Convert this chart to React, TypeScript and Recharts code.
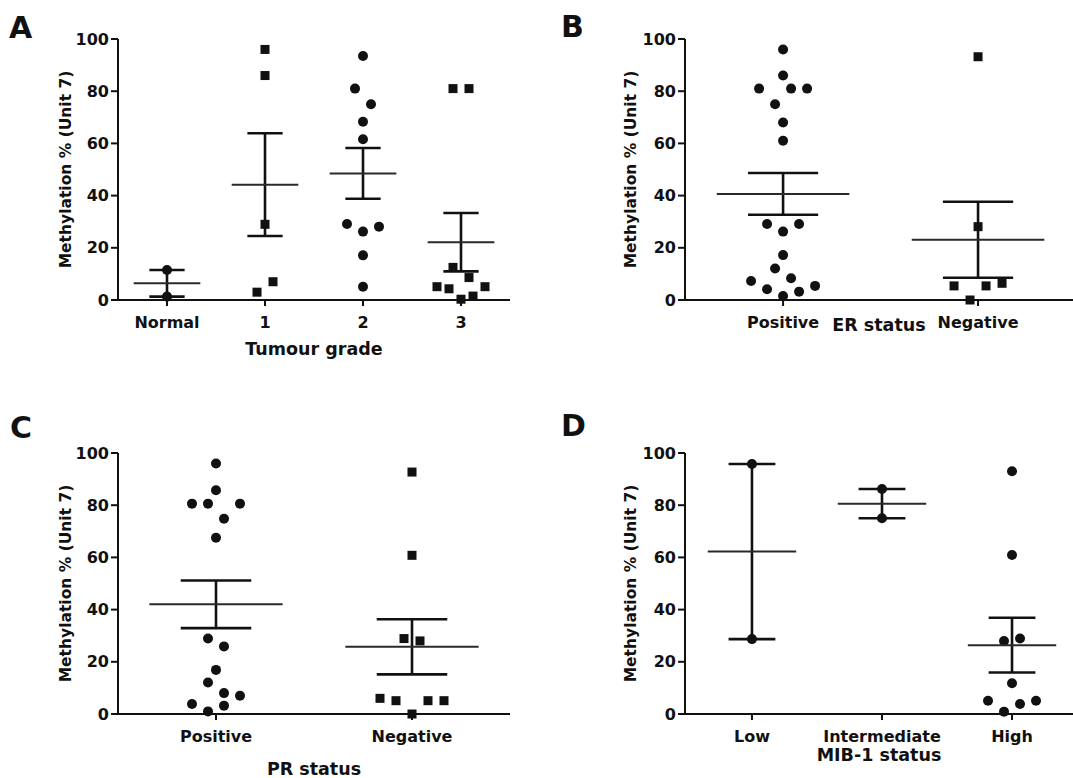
import React from "react";
import { ScatterChart, Scatter, XAxis, YAxis, ErrorBar } from "recharts";

const FONT = "'DejaVu Sans', Verdana, sans-serif";
const INK = "#111111";
const Y_TITLE = "Methylation % (Unit 7)";
const Y_TICKS = [0, 20, 40, 60, 80, 100];

// A: tumour grade
const gradeCats = ["Normal", "1", "2", "3"];
const gradeValues = [
  [11.5, 1.3],
  [96, 86, 29, 7, 3],
  [93.5, 81, 75, 68.3, 61.6, 29.1, 28.1, 26.2, 17.1, 5.1],
  [81, 81, 12.5, 8.6, 5.1, 4.3, 5.1, 0.3, 1.5],
];
const gradeSlots = [
  [0, 0],
  [0, 0, 0, 1, -1],
  [0, -1, 1, 0, 0, -2, 2, 0, 0, 0],
  [-1, 1, -1, 1, -3, -1.5, 3, 0, 1.5],
];
const gradeMarkers = ["circle", "square", "circle", "square"];

// B: ER status
const erCats = ["Positive", "Negative"];
const erValues = [
  [96, 86, 81, 81, 81, 75, 68, 61, 29.1, 29.1, 26.2, 17.2, 12.1, 8.3, 7.3, 4.1, 5.4, 3.2, 1.5],
  [93.2, 28.1, 5.4, 5.4, 6.4, 0],
];
const erSlots = [
  [0, 0, -3, 1, 3, -1, 0, 0, -2, 2, 0, 0, -1, 1, -4, -2, 4, 2, 0],
  [0, 0, -3, 1, 3, -1],
];
const erMarkers = ["circle", "square"];

// C: PR status
const prCats = ["Positive", "Negative"];
const prValues = [
  [96, 85.7, 80.6, 80.6, 80.6, 74.8, 67.5, 28.9, 25.9, 16.9, 12.1, 8, 7, 3.8, 1, 3.2],
  [92.7, 60.8, 28.9, 28, 6, 5.1, 0, 5.1, 5.1],
];
const prSlots = [
  [0, 0, -3, -1, 3, 1, 0, -1, 1, 0, -1, 1, 3, -3, -1, 1],
  [0, 0, -1, 1, -4, -2, 0, 2, 4],
];
const prMarkers = ["circle", "square"];

// D: MIB-1 status
const mibCats = ["Low", "Intermediate", "High"];
const mibValues = [
  [95.8, 28.7],
  [86.2, 75],
  [93, 60.9, 28, 28.9, 11.8, 5.1, 3.8, 5.1, 0.9],
];
const mibSlots = [
  [0, 0],
  [0, 0],
  [0, 0, -1, 1, 0, -3, 1, 3, -1],
];
const mibMarkers = ["circle", "circle", "circle"];

const mean = (a: number[]) => a.reduce((s, v) => s + v, 0) / a.length;
const sem = (a: number[]) => {
  const m = mean(a);
  const sd = Math.sqrt(a.reduce((s, v) => s + (v - m) ** 2, 0) / (a.length - 1));
  return sd / Math.sqrt(a.length);
};

type PanelProps = {
  cats: string[];
  values: number[][];
  slots: number[][];
  markers: string[];
  xTitle: string;
  left: number;
  top: number;
  wide?: boolean;
  titleOffset: number;
  domain?: [number, number];
};

const CHART_H = 370;
const STEP = 8;

function Panel({ cats, values, slots, markers, xTitle, left, top, wide, titleOffset, domain }: PanelProps) {
  const width = wide ? 513 : 530;
  const marginLeft = wide ? 15 : 12;
  const yWidth = wide ? 110 : 106;
  const marginRight = wide ? 0 : 20;
  const plotW = width - marginLeft - yWidth - marginRight;
  const xDomain = domain ?? [-0.5, cats.length - 0.5];
  const band = plotW / (xDomain[1] - xDomain[0]);
  const meanHalf = band * 0.34;
  const capHalf = band * 0.18;

  const points = values.flatMap((vals, g) =>
    vals.map((v, i) => ({ x: g, y: v, slot: slots[g][i], marker: markers[g] }))
  );
  const summary = values.map((vals, g) => ({ x: g, y: mean(vals), err: sem(vals) }));

  const renderPoint = (p: any) => {
    const cx = p.cx + p.payload.slot * STEP;
    const cy = p.cy;
    if (p.payload.marker === "square") {
      return <rect x={cx - 4.5} y={cy - 4.5} width={9} height={9} fill={INK} />;
    }
    return <circle cx={cx} cy={cy} r={5} fill={INK} />;
  };

  const renderMean = (p: any) => (
    <line x1={p.cx - meanHalf} x2={p.cx + meanHalf} y1={p.cy} y2={p.cy} stroke="#2a2a2a" strokeWidth={2} />
  );

  const tickStyle = { fontSize: 16, fontWeight: 700, fill: INK, fontFamily: FONT };

  return (
    <div style={{ position: "absolute", left, top, width, height: CHART_H }}>
      <ScatterChart
        width={width}
        height={CHART_H}
        margin={{ top: 39, right: marginRight, bottom: 10, left: marginLeft }}
      >
        <XAxis
          type="number"
          dataKey="x"
          domain={xDomain}
          ticks={cats.map((_, i) => i)}
          tickFormatter={(i: number) => cats[i] ?? ""}
          interval={0}
          height={60}
          stroke={INK}
          strokeWidth={2}
          tickSize={6}
          tickMargin={11}
          tick={tickStyle}
          label={{
            value: xTitle,
            position: "insideBottom",
            offset: titleOffset,
            fill: INK,
            fontSize: 17.5,
            fontWeight: 700,
            fontFamily: FONT,
          }}
        />
        <YAxis
          type="number"
          dataKey="y"
          domain={[0, 100]}
          ticks={Y_TICKS}
          width={yWidth}
          stroke={INK}
          strokeWidth={2}
          tickSize={7}
          tickMargin={2}
          tick={tickStyle}
          label={{
            value: Y_TITLE,
            angle: -90,
            position: "center",
            fill: INK,
            fontSize: 15.5,
            fontWeight: 700,
            fontFamily: FONT,
          }}
        />
        <Scatter data={points} shape={renderPoint} isAnimationActive={false} />
        <Scatter data={summary} shape={renderMean} isAnimationActive={false}>
          <ErrorBar
            dataKey="err"
            direction="y"
            width={capHalf}
            stroke={INK}
            strokeWidth={2.6}
            isAnimationActive={false}
          />
        </Scatter>
      </ScatterChart>
    </div>
  );
}

const letterStyle: React.CSSProperties = {
  position: "absolute",
  fontFamily: FONT,
  fontWeight: 700,
  fontSize: 30,
  lineHeight: "34px",
  color: INK,
};

export default function App() {
  return (
    <div style={{ position: "absolute", left: 0, top: 0, width: 1073, height: 778, background: "#fff" }}>
      <Panel cats={gradeCats} values={gradeValues} slots={gradeSlots} markers={gradeMarkers}
        xTitle="Tumour grade" left={0} top={0} titleOffset={5} />
      <Panel cats={erCats} values={erValues} slots={erSlots} markers={erMarkers}
        xTitle="ER status" left={560} top={0} wide titleOffset={29} domain={[-0.503, 1.487]} />
      <Panel cats={prCats} values={prValues} slots={prSlots} markers={prMarkers}
        xTitle="PR status" left={0} top={414} titleOffset={-1} />
      <Panel cats={mibCats} values={mibValues} slots={mibSlots} markers={mibMarkers}
        xTitle="MIB-1 status" left={560} top={414} wide titleOffset={13} domain={[-0.515, 2.469]} />
      <div style={{ ...letterStyle, left: 9, top: 11 }}>A</div>
      <div style={{ ...letterStyle, left: 561, top: 10 }}>B</div>
      <div style={{ ...letterStyle, left: 10, top: 411 }}>C</div>
      <div style={{ ...letterStyle, left: 561, top: 409 }}>D</div>
    </div>
  );
}
